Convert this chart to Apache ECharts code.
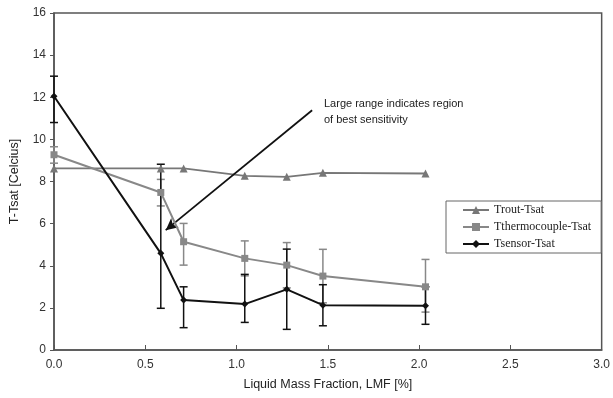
<!DOCTYPE html>
<html><head><meta charset="utf-8">
<script src="https://cdn.jsdelivr.net/npm/echarts@6/dist/echarts.min.js"></script>
<style>html,body{margin:0;padding:0;background:#fff}#c{width:613px;height:398px}</style>
</head><body><div id="c"></div>
<script>
const xTicks = [0, 0.5, 1.0, 1.5, 2.0, 2.5, 3.0];
const yTicks = [0, 2, 4, 6, 8, 10, 12, 14, 16];
const lmf = [0, 0.585, 0.71, 1.045, 1.275, 1.473, 2.035];
const trout = [8.62, 8.62, 8.62, 8.27, 8.22, 8.41, 8.38];
const thermo = [9.27, 7.48, 5.14, 4.35, 4.03, 3.51, 3.0];
const thermoLow = [8.87, 6.84, 4.03, 3.52, 2.95, 2.24, 1.8];
const thermoHigh = [9.65, 8.1, 6.01, 5.18, 5.1, 4.78, 4.3];
const sensor = [12.05, 4.59, 2.37, 2.18, 2.88, 2.13, 2.1];
const sensorLow = [10.8, 1.98, 1.06, 1.31, 0.98, 1.15, 1.22];
const sensorHigh = [13.0, 8.82, 3.0, 3.59, 4.79, 3.1, 3.0];
const arrowFrom = [1.414, 11.38];
const arrowTo = [0.612, 5.69];
const noteLines = ['Large range indicates region', 'of best sensitivity'];

const zip = (a, b) => a.map((v, i) => [v, b[i]]);
const zip3 = (a, b, c) => a.map((v, i) => [v, b[i], c[i]]);

function errRender(color) {
  return function (params, api) {
    const x = api.value(0), lo = api.value(1), hi = api.value(2);
    const pt = api.coord([x, hi]), pb = api.coord([x, lo]);
    const w = 4;
    const st = { stroke: color, lineWidth: 1.5 };
    return { type: 'group', children: [
      { type: 'line', shape: { x1: pt[0], y1: pt[1], x2: pb[0], y2: pb[1] }, style: st },
      { type: 'line', shape: { x1: pt[0] - w, y1: pt[1], x2: pt[0] + w, y2: pt[1] }, style: st },
      { type: 'line', shape: { x1: pb[0] - w, y1: pb[1], x2: pb[0] + w, y2: pb[1] }, style: st }
    ]};
  };
}

const axisFont = { fontFamily: 'Liberation Sans, Arial, sans-serif', fontSize: 12, color: '#333' };
const chart = echarts.init(document.getElementById('c'));
chart.setOption({
  animation: false,
  grid: { left: 52, top: 13, right: 7, bottom: 48, show: true, borderColor: '#555', borderWidth: 1.5, backgroundColor: 'transparent' },
  xAxis: {
    type: 'value', min: xTicks[0], max: xTicks[xTicks.length - 1], interval: 0.5,
    name: 'Liquid Mass Fraction, LMF [%]', nameLocation: 'middle', nameGap: 28,
    nameTextStyle: { fontFamily: 'Liberation Sans, Arial, sans-serif', fontSize: 12.5, color: '#222' },
    axisLine: { lineStyle: { color: '#555', width: 1.5 } },
    axisTick: { inside: true, length: 5, lineStyle: { color: '#555' } },
    axisLabel: Object.assign({ formatter: v => v.toFixed(1), margin: 9 }, axisFont),
    splitLine: { show: false }
  },
  yAxis: {
    type: 'value', min: yTicks[0], max: yTicks[yTicks.length - 1], interval: 2,
    name: 'T-Tsat [Celcius]', nameLocation: 'middle', nameGap: 33,
    nameTextStyle: { fontFamily: 'Liberation Sans, Arial, sans-serif', fontSize: 12.5, color: '#222' },
    axisLine: { lineStyle: { color: '#555', width: 1.5 } },
    axisTick: { length: 4, lineStyle: { color: '#555' } },
    axisLabel: Object.assign({ margin: 8 }, axisFont),
    splitLine: { show: false }
  },
  legend: {
    orient: 'vertical', left: 446, top: 201, itemGap: 5, itemWidth: 26, itemHeight: 10,
    backgroundColor: '#fff', borderColor: '#666', borderWidth: 1,
    padding: [3, 10, 3, 16],
    textStyle: { fontFamily: 'Liberation Serif, Times New Roman, serif', fontSize: 12, color: '#222' },
    data: ['Trout-Tsat', 'Tthermocouple-Tsat', 'Tsensor-Tsat']
  },
  series: [
    { type: 'custom', name: 'thermoErr', data: zip3(lmf, thermoLow, thermoHigh), renderItem: errRender('#888'), encode: { x: 0, y: [1, 2] }, z: 2, silent: true },
    { type: 'custom', name: 'sensorErr', data: zip3(lmf, sensorLow, sensorHigh), renderItem: errRender('#111'), encode: { x: 0, y: [1, 2] }, z: 3, silent: true },
    { type: 'line', name: 'Trout-Tsat', data: zip(lmf, trout), symbol: 'triangle', symbolSize: 8,
      lineStyle: { color: '#777', width: 1.8 }, itemStyle: { color: '#777' }, z: 4 },
    { type: 'line', name: 'Tthermocouple-Tsat', data: zip(lmf, thermo), symbol: 'rect', symbolSize: 7,
      lineStyle: { color: '#888', width: 2 }, itemStyle: { color: '#888' }, z: 5 },
    { type: 'line', name: 'Tsensor-Tsat', data: zip(lmf, sensor), symbol: 'diamond', symbolSize: 7,
      lineStyle: { color: '#111', width: 2 }, itemStyle: { color: '#111' }, z: 6,
      markLine: { silent: true, symbol: ['none', 'arrow'], symbolSize: [9, 12],
        lineStyle: { color: '#111', width: 1.8, type: 'solid' }, label: { show: false },
        data: [[{ coord: arrowFrom }, { coord: arrowTo }]] } }
  ],
  graphic: [{
    type: 'text', left: 324, top: 96,
    style: { text: noteLines.join('\n'), font: '11px Liberation Sans, Arial, sans-serif', fill: '#222', lineHeight: 16 }
  }]
});
</script></body></html>
